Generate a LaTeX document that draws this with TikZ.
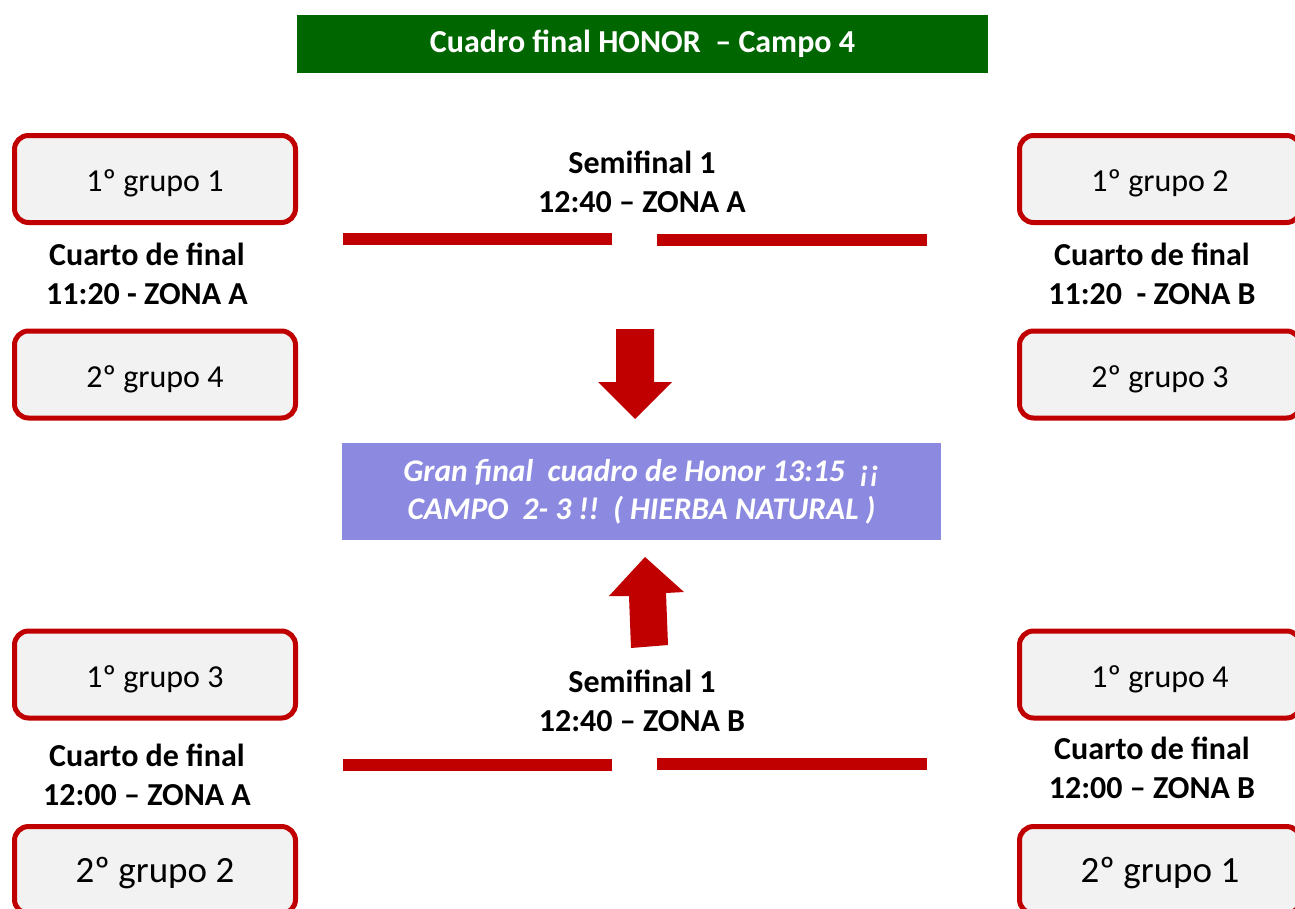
\documentclass[tikz,border=0pt]{standalone}
\usepackage{fontspec}
\setmainfont{Carlito}
\definecolor{hred}{HTML}{C00000}
\definecolor{hgreen}{HTML}{006600}
\definecolor{hpurple}{HTML}{8C8AE0}
\definecolor{hgrey}{HTML}{F2F2F2}
\begin{document}
\begin{tikzpicture}[x=1pt,y=-1pt,
  teambox/.style={draw=hred,line width=5pt,fill=hgrey,rounded corners=14pt,
    minimum width=281pt,minimum height=87pt,inner sep=0pt,
    text height=32pt,text depth=7pt,
    font=\fontsize{32}{38}\selectfont},
  bigteam/.style={teambox,text height=31pt,text depth=7pt,font=\fontsize{37}{44}\selectfont},
  lbl/.style={align=center,font=\fontsize{32}{39.5}\selectfont\bfseries,inner sep=0pt},
  bar/.style={fill=hred,draw=none},
  arrowshape/.style={fill=hred,draw=none}]
\useasboundingbox (0,0) rectangle (1295,908);
\clip (0,0) rectangle (1295,908);
% title
\node[fill=hgreen,minimum width=691pt,minimum height=58pt,inner sep=0pt,
  text=white,font=\fontsize{32}{36}\selectfont\bfseries] (title) at (642.5,44)
  {Cuadro final HONOR\ \ -- Campo 4};
% team boxes
\node[teambox] (g11) at (155,179) {1º grupo 1};
\node[teambox] (g24) at (155,374.5) {2º grupo 4};
\node[teambox] (g13) at (155,674.5) {1º grupo 3};
\node[bigteam] (g22) at (155,870) {2º grupo 2};
\node[teambox] (g12) at (1160,179) {1º grupo 2};
\node[teambox] (g23) at (1160,374.5) {2º grupo 3};
\node[teambox] (g14) at (1160,674.5) {1º grupo 4};
\node[bigteam] (g21) at (1160,870) {2º grupo 1};
% labels
\node[lbl] (q1) at (147,274) {Cuarto de final\\11:20 - ZONA A};
\node[lbl] (q2) at (1152,274) {Cuarto de final\\11:20\ \ - ZONA B};
\node[lbl] (q3) at (147,775) {Cuarto de final\\12:00 -- ZONA A};
\node[lbl] (q4) at (1152,768) {Cuarto de final\\12:00 -- ZONA B};
\node[lbl] (s1) at (642,182) {Semifinal 1\\12:40 -- ZONA A};
\node[lbl] (s2) at (642,701) {Semifinal 1\\12:40 -- ZONA B};
% bars
\fill[bar] (343,233) rectangle (612,245);
\fill[bar] (657,234) rectangle (927,246);
\fill[bar] (343,759) rectangle (612,771);
\fill[bar] (657,758) rectangle (927,770);
% final
\node[fill=hpurple,minimum width=599pt,minimum height=97pt,inner sep=0pt,
  text=white,align=center,font=\fontsize{31.5}{38}\selectfont\bfseries\itshape]
  (final) at (641.5,491.5)
  {Gran final\ \ cuadro de Honor 13:15\ \ ¡¡\\CAMPO\ \ 2- 3 !!\ \ ( HIERBA NATURAL )};
% arrows
\fill[arrowshape] (616,329) -- (654,329) -- (654,382) -- (672,382) -- (635,419)
  -- (598,382) -- (616,382) -- cycle;
\fill[arrowshape] (645,557) -- (684,592) -- (666,593) -- (668,645) -- (631,648)
  -- (629,596) -- (609,596) -- cycle;
\end{tikzpicture}
\end{document}
